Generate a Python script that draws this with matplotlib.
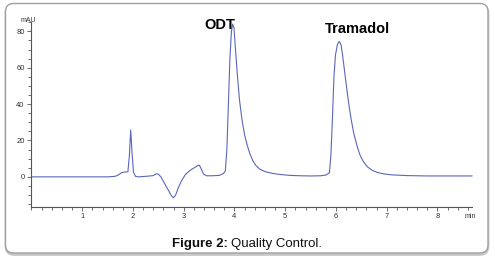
import matplotlib
matplotlib.use("Agg")
import matplotlib.pyplot as plt
from matplotlib.patches import FancyBboxPatch
from matplotlib.transforms import IdentityTransform
from matplotlib.ticker import MultipleLocator

plt.rcParams['font.family'] = ['Liberation Sans', 'DejaVu Sans']

# chromatogram (time in min, signal in mAU)
time = [0.0, 1.5, 1.65, 1.72, 1.78, 1.85, 1.90, 1.93, 1.955, 1.98, 2.01, 2.05,
        2.10, 2.20, 2.30, 2.40, 2.46, 2.50, 2.55, 2.62, 2.70, 2.76, 2.80, 2.84,
        2.90, 2.96, 3.03, 3.10, 3.16, 3.22, 3.28, 3.31, 3.35, 3.39, 3.45, 3.55,
        3.70, 3.78, 3.82, 3.85, 3.88, 3.91, 3.94, 3.965, 3.99, 4.02, 4.06, 4.10,
        4.15, 4.20, 4.25, 4.30, 4.36, 4.42, 4.50, 4.60, 4.75, 4.90, 5.10, 5.30,
        5.50, 5.70, 5.80, 5.87, 5.90, 5.93, 5.96, 5.99, 6.03, 6.065, 6.10, 6.13,
        6.17, 6.21, 6.25, 6.30, 6.35, 6.42, 6.48, 6.55, 6.62, 6.72, 6.82, 6.95,
        7.10, 7.40, 7.80, 8.68]
signal = [0, 0, 0.3, 1.2, 2.4, 2.7, 2.8, 12, 25.8, 14, 2.5, 0.3,
          0, 0.2, 0.4, 0.7, 1.7, 1.5, 0, -3.5, -7.5, -10.5, -11.5, -10,
          -5.5, -2, 1.2, 3.0, 4.2, 5.2, 6.3, 6.4, 4, 1.5, 0.6, 0.6,
          0.8, 1.8, 3.2, 15, 40, 65, 80, 84, 82, 70, 55, 42,
          31, 23, 17.5, 13, 9, 6.3, 4.2, 2.9, 1.9, 1.3, 0.8, 0.6,
          0.5, 0.6, 1.0, 2.2, 12, 32, 55, 67, 73, 74.5, 72.5, 67,
          58, 49, 40.5, 31.5, 24, 16.5, 11.5, 8, 5.5, 3.5, 2.4, 1.6,
          1.1, 0.7, 0.5, 0.5]

peak_names = ["ODT", "Tramadol"]
peak_label_pos = [(3.71, 83.5), (6.42, 81.3)]
yticks = [0, 20, 40, 60, 80]
xticks = [1, 2, 3, 4, 5, 6, 7, 8]

fig = plt.figure(figsize=(4.95, 2.58), dpi=100)
fig.patch.set_facecolor("white")

# rounded frame with a soft shadow at the bottom
shadow = FancyBboxPatch((6, 3.5), 482, 249, boxstyle="round,pad=0,rounding_size=8",
                        transform=IdentityTransform(), facecolor="none",
                        edgecolor="#c8c8c8", lw=2.0, zorder=-2)
frame = FancyBboxPatch((5.5, 5), 482.5, 249.5, boxstyle="round,pad=0,rounding_size=8",
                       transform=IdentityTransform(), facecolor="white",
                       edgecolor="#a0a0a0", lw=1.0, zorder=-1)
fig.patches.extend([shadow, frame])

ax = fig.add_axes([0.0636, 0.1996, 0.8899, 0.714])
ax.patch.set_alpha(0)
ax.plot(time, signal, color="#5b66bb", lw=0.8, clip_on=False)
ax.set_xlim(0, 8.68)
ax.set_ylim(-16.3, 85)

for sp in ["top", "right"]:
    ax.spines[sp].set_visible(False)
for sp in ["left", "bottom"]:
    ax.spines[sp].set_color("#555555")
    ax.spines[sp].set_linewidth(0.8)

ax.set_xticks(xticks)
ax.set_yticks(yticks)
ax.xaxis.set_minor_locator(MultipleLocator(0.2))
ax.yaxis.set_minor_locator(MultipleLocator(5))
ax.tick_params(which="both", direction="out", color="#555555", width=0.6,
               labelsize=5.5, labelcolor="#333333", pad=2)
ax.tick_params(which="major", length=3)
ax.tick_params(which="minor", length=2)

for name, (px, py) in zip(peak_names, peak_label_pos):
    ax.text(px, py, name, fontsize=10.5, fontweight="bold", ha="center",
            va="center", color="black")

fig.text(28 / 495, 1 - 21 / 258, "mAU", fontsize=5, color="#333333",
         ha="center", va="center")
fig.text(470 / 495, 1 - 216 / 258, "min", fontsize=5, color="#333333",
         ha="center", va="center")

fig.text(172 / 495, 1 - 244 / 258, "Figure 2:", fontsize=9.5, fontweight="bold",
         color="#111111", ha="left", va="center")
fig.text(231 / 495, 1 - 244 / 258, "Quality Control.", fontsize=9.5,
         color="#111111", ha="left", va="center")

fig.savefig("out.png", dpi=100)
